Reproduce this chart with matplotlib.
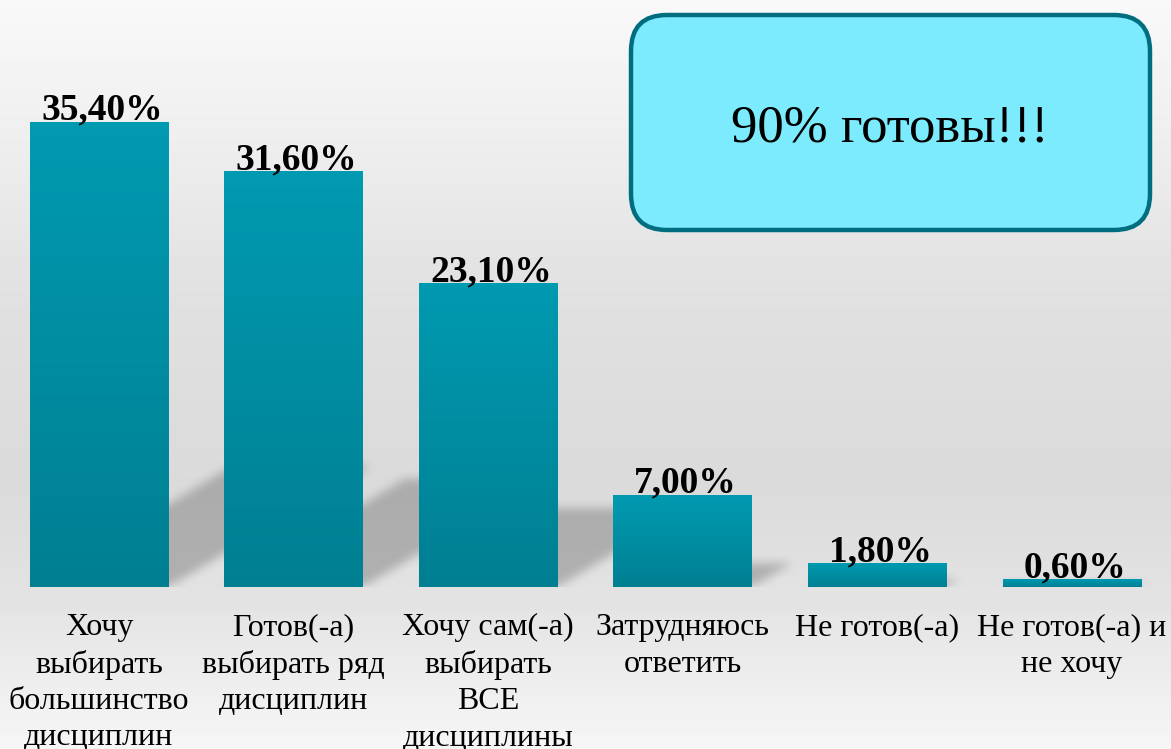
import matplotlib
matplotlib.use("Agg")
import matplotlib.pyplot as plt
import numpy as np
from matplotlib.patches import FancyBboxPatch


CATEGORIES = [
    "Хочу\nвыбирать\nбольшинство\nдисциплин",
    "Готов(-а)\nвыбирать ряд\nдисциплин",
    "Хочу сам(-а)\nвыбирать\nВСЕ\nдисциплины",
    "Затрудняюсь\nответить",
    "Не готов(-а)",
    "Не готов(-а) и\nне хочу",
]
VALUES = [35.4, 31.6, 23.1, 7.0, 1.8, 0.6]
CALLOUT = "90% готовы!!!"

W, H = 1171, 749
YMAX = 44.69
BAR_TOP = "#009ab1"
BAR_BOTTOM = "#007f92"


def fmt(v):
    return f"{v:.2f}%".replace(".", ",")


def box_blur(a, r, axis):
    k = np.ones(2 * r + 1) / (2 * r + 1)
    return np.apply_along_axis(lambda m: np.convolve(m, k, mode="same"), axis, a)


def draw_background(fig):
    bg = fig.add_axes([0, 0, 1, 1], zorder=-1)
    rows = np.arange(H)
    prof = np.interp(rows, [0, 120, 300, 480, 600, 749], [0.975, 0.94, 0.88, 0.855, 0.89, 0.965])
    img = np.repeat(prof[:, None], 8, axis=1)
    bg.imshow(img, cmap="gray", vmin=0, vmax=1, aspect="auto", extent=(0, W, H, 0))
    bg.set_xlim(0, W)
    bg.set_ylim(H, 0)
    bg.axis("off")
    return bg


def draw_shadows(ax, xs, width):
    # soft sheared shadow behind each bar, leaning up and to the right
    nx, ny = 1168, 587
    X, Y = np.meshgrid(np.linspace(-0.5, 5.5, nx), np.linspace(0, YMAX, ny))
    mask = np.zeros_like(X)
    k = 0.113
    for x, v in zip(xs, VALUES):
        hs = 0.26 * v
        xl, xr = x - width / 2, x + width / 2
        m = (Y <= hs) & (X >= xl + k * Y) & (X <= xr + k * Y)
        mask = np.maximum(mask, m.astype(float))
    for _ in range(2):
        mask = box_blur(mask, 5, 0)
        mask = box_blur(mask, 5, 1)
    rgba = np.zeros((ny, nx, 4))
    rgba[..., :3] = 0.4
    rgba[..., 3] = np.clip(mask, 0, 1) * 0.4
    ax.imshow(rgba, origin="lower", extent=(-0.5, 5.5, 0, YMAX), aspect="auto", zorder=1)


def main():
    plt.rcParams["font.family"] = ["Liberation Serif", "DejaVu Serif"]
    fig = plt.figure(figsize=(W / 100, H / 100), dpi=100)
    bg = draw_background(fig)

    ax = fig.add_axes([1.7 / W, 162 / H, 1167.6 / W, 587 / H])
    ax.set_facecolor("none")
    xs = np.arange(len(VALUES))
    width = 0.714

    draw_shadows(ax, xs, width)
    bars = ax.bar(xs, VALUES, width=width, color=BAR_TOP, zorder=2)

    grad = np.linspace(0, 1, 100)[:, None]
    cmap = matplotlib.colors.LinearSegmentedColormap.from_list("bar", [BAR_BOTTOM, BAR_TOP])
    for bar in bars:
        x0, w, h = bar.get_x(), bar.get_width(), bar.get_height()
        ax.imshow(grad, cmap=cmap, origin="lower", aspect="auto",
                  extent=(x0, x0 + w, 0, h), zorder=3)

    for x, v in zip(xs, VALUES):
        ax.annotate(fmt(v), (x, v), xytext=(2, 1.5), textcoords="offset points",
                    ha="center", va="baseline", fontsize=27, fontweight="bold", zorder=4)

    ax.set_xlim(-0.5, 5.5)
    ax.set_ylim(0, YMAX)
    ax.set_xticks(xs)
    ax.set_xticklabels(CATEGORIES, fontsize=23, linespacing=1.33, multialignment="center")
    ax.tick_params(axis="x", length=0, pad=19)
    ax.set_yticks([])
    for s in ax.spines.values():
        s.set_visible(False)

    box = FancyBboxPatch((631, 15), 519, 215, boxstyle="round,pad=0,rounding_size=36",
                         facecolor="#7debfe", edgecolor="#006e7f", linewidth=3.2, zorder=5)
    bg.add_patch(box)
    bg.text(890, 128, CALLOUT, ha="center", va="center", fontsize=38, zorder=6)

    fig.savefig("out.png", dpi=100)
    plt.close(fig)


if __name__ == "__main__":
    main()
